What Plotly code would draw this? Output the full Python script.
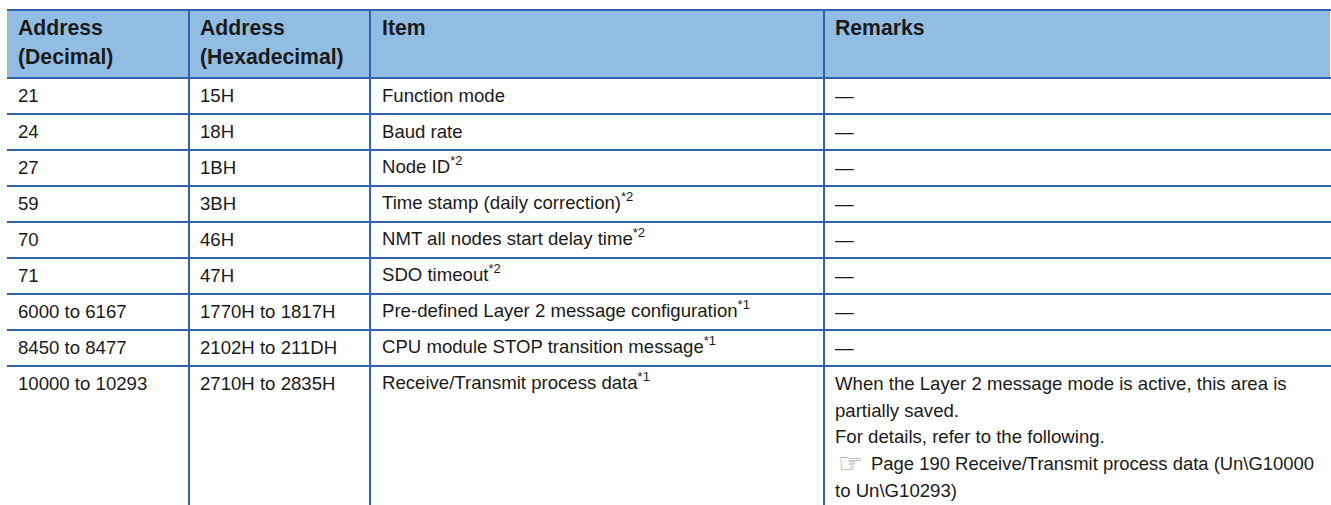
import plotly.graph_objects as go

col_edges = [7, 189, 370, 824, 1331]
text_x = [17, 199, 381, 834]
row_edges = [10, 78, 114, 150, 186, 222, 258, 294, 330, 366]
table_bottom = 505
header_lines = [["Address", "(Decimal)"], ["Address", "(Hexadecimal)"], ["Item"], ["Remarks"]]
decimal = ["21", "24", "27", "59", "70", "71", "6000 to 6167", "8450 to 8477", "10000 to 10293"]
hexa = ["15H", "18H", "1BH", "3BH", "46H", "47H", "1770H to 1817H", "2102H to 211DH", "2710H to 2835H"]
items = ["Function mode", "Baud rate", "Node ID<sup>*2</sup>", "Time stamp (daily correction)<sup>*2</sup>",
         "NMT all nodes start delay time<sup>*2</sup>", "SDO timeout<sup>*2</sup>",
         "Pre-defined Layer 2 message configuration<sup>*1</sup>",
         "CPU module STOP transition message<sup>*1</sup>", "Receive/Transmit process data<sup>*1</sup>"]
remarks = ["—"] * 8
last_remark = ["When the Layer 2 message mode is active, this area is", "partially saved.",
               "For details, refer to the following.",
               "Page 190 Receive/Transmit process data (Un\\G10000", "to Un\\G10293)"]
last_y = [383, 410, 436.5, 463, 490]

LINE = "#2f62b0"
HEAD = "#92bde3"
TXT = "#1a1a1a"
FONT = "Liberation Sans"
SIZE = 18.6

shapes = [dict(type="rect", x0=col_edges[0], x1=1330, y0=row_edges[0], y1=row_edges[1],
               fillcolor=HEAD, line_width=0, layer="below")]
for y in row_edges:
    shapes.append(dict(type="line", x0=col_edges[0], x1=col_edges[-1], y0=y, y1=y, line=dict(color=LINE, width=2)))
for x in col_edges[1:-1]:
    shapes.append(dict(type="line", x0=x, x1=x, y0=row_edges[0], y1=table_bottom, line=dict(color=LINE, width=2)))

ann = []
def text(x, y, s, size=SIZE, bold=False, color=TXT, family=FONT):
    ann.append(dict(x=x, y=y, text=f"<b>{s}</b>" if bold else s, showarrow=False, xanchor="left", yanchor="middle",
                    align="left", xshift=-1, font=dict(family=family, size=size, color=color)))

for x, lines in zip(text_x, header_lines):
    for k, s in enumerate(lines):
        text(x, 27.5 + 29 * k, s, 21.2, True)
for i in range(9):
    yc = (row_edges[i + 1] + row_edges[i + 2]) / 2 - 0.5 if i < 8 else 383
    text(text_x[0], yc, decimal[i])
    text(text_x[1], yc, hexa[i])
    text(text_x[2], yc - (2.5 if "<sup>" in items[i] else 0), items[i])
    if i < 8:
        text(text_x[3], yc, remarks[i])
for k, s in enumerate(last_remark):
    text(text_x[3] + (36 if k == 3 else 0), last_y[k], s, 18.45 if k == 3 else SIZE)
text(text_x[3] + 3, last_y[3], "☞", 28, color="#a0a0a0", family="DejaVu Sans")

fig = go.Figure()
fig.update_layout(width=1331, height=505, margin=dict(l=0, r=0, t=0, b=0), paper_bgcolor="white", plot_bgcolor="white",
                  xaxis=dict(range=[0, 1331], visible=False, fixedrange=True),
                  yaxis=dict(range=[505, 0], visible=False, fixedrange=True),
                  shapes=shapes, annotations=ann, showlegend=False)
fig.write_html("out.html", config=dict(displayModeBar=False),
               post_script="document.body.style.margin='0';document.body.style.overflow='hidden';")
